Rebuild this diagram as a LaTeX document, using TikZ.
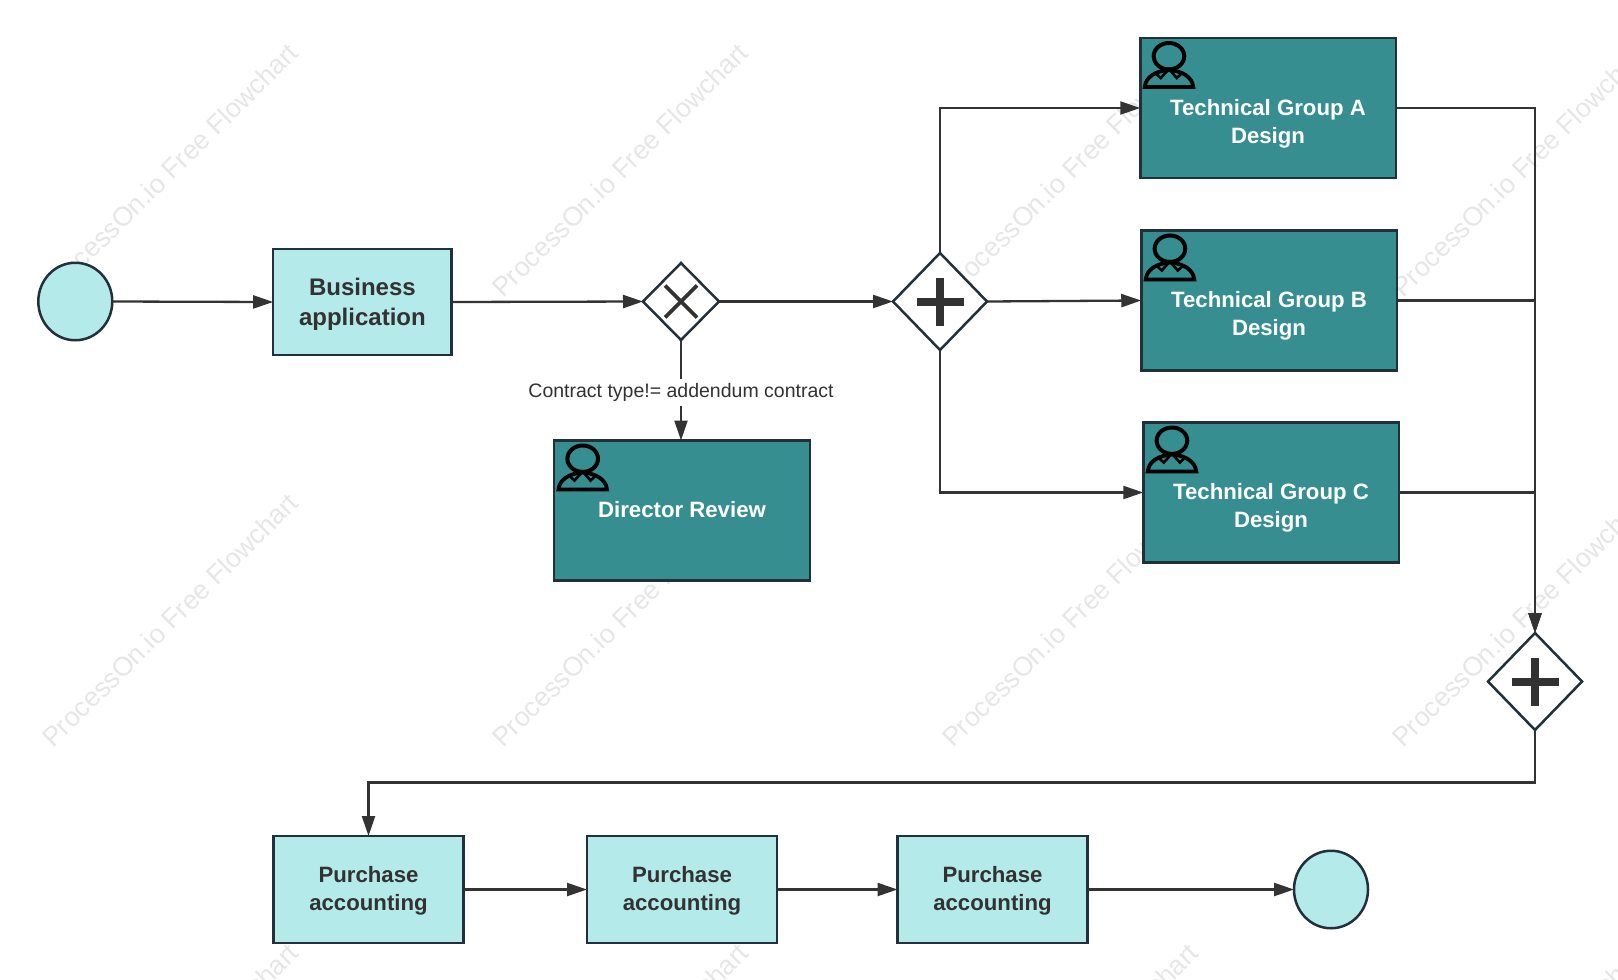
\documentclass[tikz,border=0pt]{standalone}
\usepackage{fontspec}
\setmainfont{Liberation Sans}
\usetikzlibrary{shapes.geometric,arrows.meta}
\definecolor{tealbox}{HTML}{368E90}
\definecolor{lightbox}{HTML}{B5EAEA}
\definecolor{edgeline}{HTML}{22303A}
\definecolor{wireline}{HTML}{333333}
\definecolor{inkdark}{HTML}{323232}
\definecolor{markgray}{HTML}{E6E6E6}
\newcommand{\toppad}[1]{\rule{0pt}{#1pt}}
\tikzset{
  boxbase/.style={draw=edgeline,line width=2.5pt,rectangle,inner sep=0pt,outer sep=0pt,align=center},
  techbox/.style={boxbase,fill=tealbox,text=white,font=\bfseries\fontsize{22.2}{28}\selectfont,minimum width=#1,minimum height=140pt},
  lightstep/.style={boxbase,fill=lightbox,text=inkdark,font=\bfseries\fontsize{22.2}{28}\selectfont,minimum width=190pt,minimum height=107pt},
  bizbox/.style={boxbase,fill=lightbox,text=inkdark,font=\bfseries\fontsize{24}{30}\selectfont,minimum width=178.5pt,minimum height=106pt},
  eventnode/.style={draw=edgeline,line width=2.5pt,ellipse,fill=lightbox,inner sep=0pt,outer sep=0pt,minimum width=74pt,minimum height=77.5pt},
  gatesmall/.style={draw=edgeline,line width=2.5pt,diamond,fill=white,inner sep=0pt,outer sep=0pt,shape aspect=1,minimum width=76pt,minimum height=77pt},
  gatebig/.style={draw=edgeline,line width=2.5pt,diamond,fill=white,inner sep=0pt,outer sep=0pt,shape aspect=1,minimum width=94pt,minimum height=97pt},
  wire/.style={draw=wireline,line width=2.3pt,-{Triangle[length=20pt,width=13pt]}},
  condlabel/.style={fill=white,text=inkdark,font=\fontsize{19.5}{24}\selectfont,inner xsep=1pt,inner ysep=0pt,minimum height=27pt},
  markup/.style={text=markgray,font=\fontsize{26.8}{30}\selectfont,rotate=44.6,inner sep=0pt},
  persona/.pic={
    \draw[black,line width=4pt] (28.7,18.2) ellipse[x radius=15.3,y radius=13.2];
    \draw[black,line width=3.8pt,line join=miter] (4.5,49) .. controls (5.5,39) and (15,33) .. (28.7,32) .. controls (42,33) and (52,39) .. (53,49) -- cycle;
    \draw[black,line width=2.6pt,line join=miter] (15,35) -- (20.5,40) -- (28.7,31) -- (36.5,40) -- (42,35);
  }
}
\begin{document}
\begin{tikzpicture}[x=1pt,y=-1pt]
\useasboundingbox (0,0) rectangle (1618,980);
\begin{scope}
\clip (0,0) rectangle (1618,980);
\foreach \mx in {170,620,1070,1520}{
  \foreach \my in {170,620,1070}{
    \node[markup] (wm-\mx-\my) at (\mx,\my) {ProcessOn.io Free Flowchart};
  }
}
\end{scope}

\node[eventnode] (start) at (75.3,301.5) {};
\node[bizbox] (biz) at (362.4,302) {\toppad{21}Business\\application};
\node[gatesmall] (xg) at (681,301.5) {};
\node[gatebig] (pg) at (940,301.5) {};
\node[techbox=256pt] (dir) at (682,510.5) {\rule[-2pt]{0pt}{2pt}Director Review};
\node[techbox=255.5pt] (ta) at (1268,108) {\strut\\Technical Group A\\Design};
\node[techbox=255.5pt] (tb) at (1269,300.5) {\strut\\Technical Group B\\Design};
\node[techbox=255.5pt] (tc) at (1271,492.5) {\strut\\Technical Group C\\Design};
\node[gatebig] (pj) at (1535,681.5) {};
\node[lightstep] (p1) at (368.5,889.5) {\toppad{19.5}Purchase\\accounting};
\node[lightstep] (p2) at (682,889.5) {\toppad{19.5}Purchase\\accounting};
\node[lightstep] (p3) at (992.5,889.5) {\toppad{19.5}Purchase\\accounting};
\node[eventnode] (stop) at (1331,889.5) {};
\coordinate (lane) at (900,782.5);

\pic at (dir.north west) {persona};
\pic at (ta.north west) {persona};
\pic at (tb.north west) {persona};
\pic at (tc.north west) {persona};

\draw[draw=inkdark,line width=3.8pt] (xg.center) ++(-16,-16) -- ++(32,32);
\draw[draw=inkdark,line width=3.8pt] (xg.center) ++(16,-16) -- ++(-32,32);
\foreach \gname in {pg,pj}{
  \draw[draw=inkdark,line width=8pt] (\gname.center) ++(-23.5,0) -- ++(47,0);
  \draw[draw=inkdark,line width=8pt] (\gname.center) ++(0,-24) -- ++(0,48);
}

\draw[wire] (start.east) -- (biz.west);
\draw[wire] (biz.east) -- (xg.west);
\draw[wire] (xg.east) -- (pg.west);
\draw[wire] (xg.south) -- node[condlabel,pos=0.525] (cond) {Contract type!= addendum contract} (xg.south |- dir.north);
\draw[wire] (pg.north) |- (ta.west);
\draw[wire] (pg.east) -- (tb.west);
\draw[wire] (pg.south) |- (tc.west);
\draw[wire] (ta.east) -| (pj.north);
\draw[wire] (tb.east) -| (pj.north);
\draw[wire] (tc.east) -| (pj.north);
\draw[wire] (pj.south) |- (lane) -| (p1.north);
\draw[wire] (p1.east) -- (p2.west);
\draw[wire] (p2.east) -- (p3.west);
\draw[wire] (p3.east) -- (stop.west);
\end{tikzpicture}
\end{document}
